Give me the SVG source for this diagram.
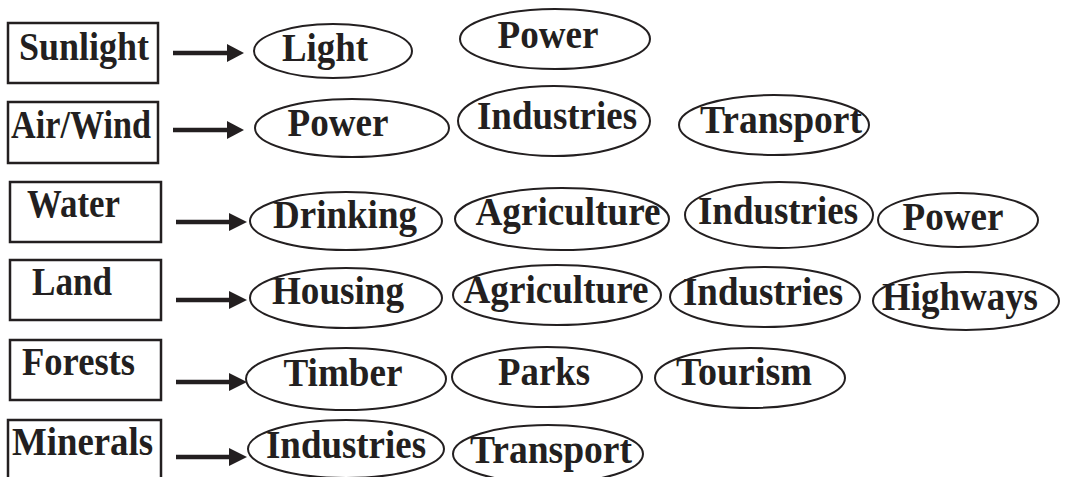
<svg xmlns="http://www.w3.org/2000/svg" width="1067" height="477" viewBox="0 0 1067 477">
<style>
.box{fill:#fff;stroke:#231f20;stroke-width:2.5}
.ell{fill:#fff;stroke:#231f20;stroke-width:2}
.t{font-family:"Liberation Serif","Times New Roman",serif;font-weight:bold;font-size:41px;fill:#231f20}
.m{text-anchor:middle}
.ar{stroke:#231f20;stroke-width:4.5;fill:none}
.hd{fill:#231f20}
</style>
<rect width="1067" height="477" fill="#fff"/>
<g id="connectors">
<line class="ar" x1="173" y1="53" x2="230" y2="53"/><polygon class="hd" points="227,44 244,53 227,62"/>
<line class="ar" x1="173" y1="130" x2="230" y2="130"/><polygon class="hd" points="227,121 244,130 227,139"/>
<line class="ar" x1="176" y1="222" x2="232" y2="222"/><polygon class="hd" points="229,213 247,222 229,231"/>
<line class="ar" x1="176" y1="300" x2="232" y2="300"/><polygon class="hd" points="229,291 247,300 229,309"/>
<line class="ar" x1="176" y1="382" x2="232" y2="382"/><polygon class="hd" points="229,373 247,382 229,391"/>
<line class="ar" x1="176" y1="457" x2="232" y2="457"/><polygon class="hd" points="229,448 247,457 229,466"/>
</g>
<g id="sunlight"><rect class="box" x="8" y="23" width="150" height="60"/><text class="t" x="19" y="60" textLength="130" lengthAdjust="spacingAndGlyphs">Sunlight</text></g>
<g id="airwind"><rect class="box" x="8" y="102" width="150" height="61"/><text class="t" x="11" y="138" textLength="140" lengthAdjust="spacingAndGlyphs">Air/Wind</text></g>
<g id="water"><rect class="box" x="10" y="182" width="151" height="60"/><text class="t" x="27" y="217" textLength="93" lengthAdjust="spacingAndGlyphs">Water</text></g>
<g id="land"><rect class="box" x="10" y="260" width="151" height="60"/><text class="t" x="32" y="295" textLength="80" lengthAdjust="spacingAndGlyphs">Land</text></g>
<g id="forests"><rect class="box" x="10" y="340" width="151" height="60"/><text class="t" x="22" y="375" textLength="113" lengthAdjust="spacingAndGlyphs">Forests</text></g>
<g id="minerals"><rect class="box" x="8" y="420" width="153" height="62"/><text class="t" x="12" y="455" textLength="141" lengthAdjust="spacingAndGlyphs">Minerals</text></g>

<g id="r1-light"><ellipse class="ell" cx="333" cy="51" rx="79" ry="27"/><text class="t m" x="325" y="61" textLength="86" lengthAdjust="spacingAndGlyphs">Light</text></g>
<g id="r1-power"><ellipse class="ell" cx="555" cy="39" rx="95" ry="30"/><text class="t m" x="548" y="48" textLength="101" lengthAdjust="spacingAndGlyphs">Power</text></g>

<g id="r2-power"><ellipse class="ell" cx="352" cy="128" rx="97" ry="29"/><text class="t m" x="338" y="136" textLength="101" lengthAdjust="spacingAndGlyphs">Power</text></g>
<g id="r2-industries"><ellipse class="ell" cx="554" cy="121" rx="96" ry="35"/><text class="t m" x="557" y="129" textLength="160" lengthAdjust="spacingAndGlyphs">Industries</text></g>
<g id="r2-transport"><ellipse class="ell" cx="774" cy="125" rx="95" ry="30"/><text class="t m" x="781" y="133" textLength="162" lengthAdjust="spacingAndGlyphs">Transport</text></g>

<g id="r3-drinking"><ellipse class="ell" cx="346" cy="221" rx="96" ry="29"/><text class="t m" x="345" y="228" textLength="144" lengthAdjust="spacingAndGlyphs">Drinking</text></g>
<g id="r3-agriculture"><ellipse class="ell" cx="562" cy="219" rx="107" ry="31"/><text class="t m" x="568" y="225" textLength="185" lengthAdjust="spacingAndGlyphs">Agriculture</text></g>
<g id="r3-industries"><ellipse class="ell" cx="779" cy="215" rx="94" ry="33"/><text class="t m" x="778" y="224" textLength="160" lengthAdjust="spacingAndGlyphs">Industries</text></g>
<g id="r3-power"><ellipse class="ell" cx="958" cy="220" rx="80" ry="27"/><text class="t m" x="953" y="230" textLength="101" lengthAdjust="spacingAndGlyphs">Power</text></g>

<g id="r4-housing"><ellipse class="ell" cx="346" cy="298" rx="96" ry="30"/><text class="t m" x="338" y="304" textLength="132" lengthAdjust="spacingAndGlyphs">Housing</text></g>
<g id="r4-agriculture"><ellipse class="ell" cx="557" cy="295" rx="104" ry="30"/><text class="t m" x="556" y="303" textLength="185" lengthAdjust="spacingAndGlyphs">Agriculture</text></g>
<g id="r4-industries"><ellipse class="ell" cx="765" cy="297" rx="95" ry="30"/><text class="t m" x="763" y="305" textLength="160" lengthAdjust="spacingAndGlyphs">Industries</text></g>
<g id="r4-highways"><ellipse class="ell" cx="966" cy="301" rx="93" ry="29"/><text class="t m" x="960" y="310" textLength="156" lengthAdjust="spacingAndGlyphs">Highways</text></g>

<g id="r5-timber"><ellipse class="ell" cx="346" cy="379" rx="100" ry="31"/><text class="t m" x="343" y="386" textLength="119" lengthAdjust="spacingAndGlyphs">Timber</text></g>
<g id="r5-parks"><ellipse class="ell" cx="547" cy="377" rx="95" ry="30"/><text class="t m" x="544" y="385" textLength="92" lengthAdjust="spacingAndGlyphs">Parks</text></g>
<g id="r5-tourism"><ellipse class="ell" cx="750" cy="378" rx="95" ry="30"/><text class="t m" x="744" y="385" textLength="136" lengthAdjust="spacingAndGlyphs">Tourism</text></g>

<g id="r6-industries"><ellipse class="ell" cx="346" cy="449" rx="98" ry="29"/><text class="t m" x="346" y="458" textLength="160" lengthAdjust="spacingAndGlyphs">Industries</text></g>
<g id="r6-transport"><ellipse class="ell" cx="548" cy="454" rx="95" ry="29"/><text class="t m" x="551" y="463" textLength="162" lengthAdjust="spacingAndGlyphs">Transport</text></g>
</svg>
